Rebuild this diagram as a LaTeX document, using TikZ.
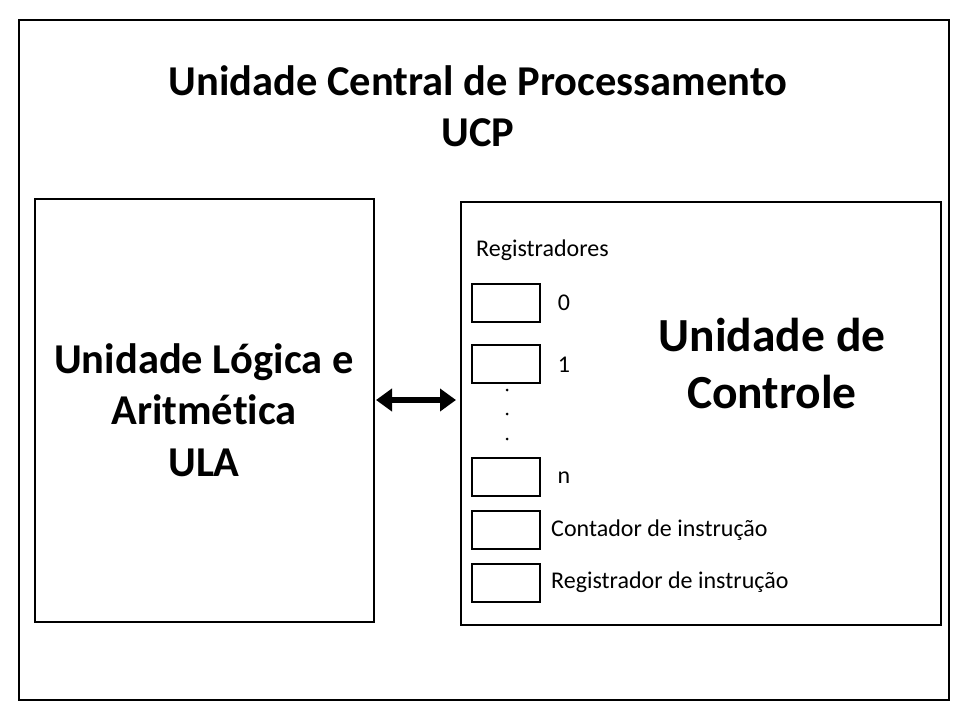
\documentclass[tikz,border=0pt]{standalone}
\usepackage{fontspec}
\setmainfont[Ligatures=NoCommon]{Carlito}
\usetikzlibrary{arrows.meta}
\begin{document}
\begin{tikzpicture}[x=1pt,y=-1pt,
  frame/.style={draw,line width=2.5pt},
  regbox/.style={draw,line width=2pt,minimum width=68pt,minimum height=38pt,inner sep=0pt},
  small/.style={font=\fontsize{24}{28}\selectfont,inner sep=0pt},
  big/.style={font=\fontsize{42.5}{51.5}\selectfont\bfseries,align=center,inner sep=0pt}]
\useasboundingbox (0,0) rectangle (960,720);
\draw[frame] (19,20) rectangle (949,700);
\node[big] (title) at (478,106) {Unidade Central de Processamento\\UCP};
\node[frame,minimum width=339pt,minimum height=423pt,inner sep=0pt] (ula) at (204.5,410.5) {};
\node[big] at (204,410) {Unidade Lógica e\\Aritmética\\ULA};
\node[frame,minimum width=480pt,minimum height=423pt,inner sep=0pt] (uc) at (701,413.5) {};
\node[font=\fontsize{47.5}{57}\selectfont\bfseries,align=center,inner sep=0pt] at (772,364) {Unidade de\\Controle};
\coordinate (a1) at (376,400);
\coordinate (a2) at (456,400);
\draw[line width=5.5pt,{Triangle[length=16pt,width=22pt]}-{Triangle[length=16pt,width=22pt]}] (a1) -- (a2);
\node[small,anchor=west] (regs) at (476,250) {Registradores};
\node[regbox] (r0) at (506,303) {};
\node[regbox] (r1) at (506,364) {};
\node[regbox] (rn) at (506,477) {};
\node[regbox] (rc) at (506,530) {};
\node[regbox] (ri) at (506,583) {};
\node[small] at (564,303) {0};
\node[small] at (564,365) {1};
\node[small] at (564,478) {n};
\node[small,anchor=west] at (551,530) {Contador de instrução};
\node[small,anchor=west] at (551,582) {Registrador de instrução};
\fill (507,390) circle (1.5pt);
\fill (507,414) circle (1.5pt);
\fill (507,439) circle (1.5pt);
\end{tikzpicture}
\end{document}
